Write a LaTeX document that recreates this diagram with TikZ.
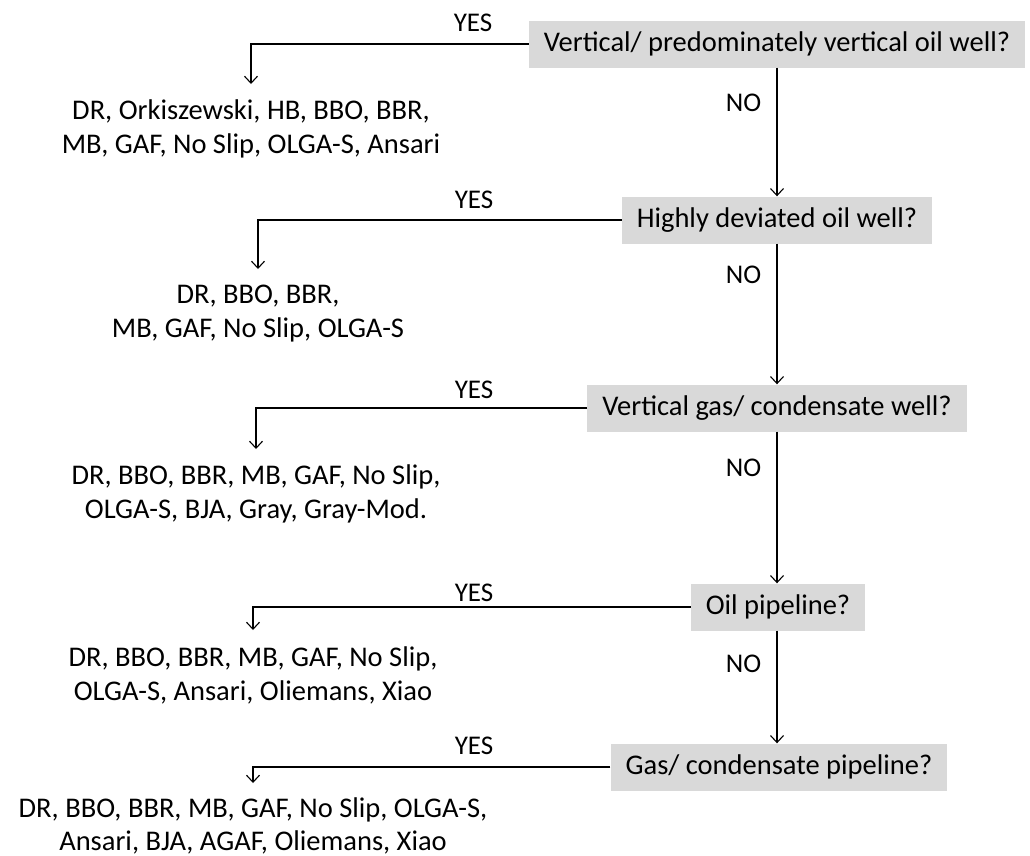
\documentclass[tikz,border=0pt]{standalone}
\usepackage{fontspec}
\setmainfont{Carlito}
\usetikzlibrary{arrows.meta}
\begin{document}
\begin{tikzpicture}[x=1pt,y=-1pt,
  question/.style={fill=boxgray,inner xsep=15pt,minimum height=47pt,font=\fontsize{28.5}{34}\selectfont},
  answer/.style={anchor=north,align=center,inner sep=0pt,font=\fontsize{28.5}{34}\selectfont},
  lbl/.style={inner sep=0pt,font=\fontsize{27}{30}\selectfont},
  arr/.style={draw=black,line width=1.1pt,-{Straight Barb[length=7pt,width=13pt,line width=1.1pt]}},
  toanswer/.style={arr,shorten >=16pt}]
\definecolor{boxgray}{HTML}{D9D9D9}
\useasboundingbox (0,0) rectangle (1030,855);

% decision boxes down the right-hand side
\node[question] (q1) at (777,44) {Vertical/ predominately vertical oil well?};
\node[question] (q2) at (777,220) {Highly deviated oil well?};
\node[question] (q3) at (777,408) {Vertical gas/ condensate well?};
\node[question] (q4) at (778,607) {Oil pipeline?};
\node[question] (q5) at (779,767) {Gas/ condensate pipeline?};

% model lists reached on a YES answer
\node[answer] (r1) at (251,100) {DR, Orkiszewski, HB, BBO, BBR,\\MB, GAF, No Slip, OLGA-S, Ansari};
\node[answer] (r2) at (258,285) {DR, BBO, BBR,\\MB, GAF, No Slip, OLGA-S};
\node[answer] (r3) at (256,465) {DR, BBO, BBR, MB, GAF, No Slip,\\OLGA-S, BJA, Gray, Gray-Mod.};
\node[answer] (r4) at (253,646) {DR, BBO, BBR, MB, GAF, No Slip,\\OLGA-S, Ansari, Oliemans, Xiao};
\node[answer,font=\fontsize{28.5}{33}\selectfont] (r5) at (253,797) {DR, BBO, BBR, MB, GAF, No Slip, OLGA-S,\\Ansari, BJA, AGAF, Oliemans, Xiao};

% YES branches
\draw[toanswer] (q1.west) -| (r1.north);
\draw[toanswer] (q2.west) -| (r2.north);
\draw[toanswer] (q3.west) -| (r3.north);
\draw[toanswer] (q4.west) -| (r4.north);
\draw[toanswer,shorten >=14pt] (q5.west) -| (r5.north);
\node[lbl] (y1) at (473,22.5) {YES};
\node[lbl] (y2) at (474,200) {YES};
\node[lbl] (y3) at (474,390) {YES};
\node[lbl] (y4) at (474,593) {YES};
\node[lbl] (y5) at (474,746) {YES};

% NO branches
\draw[arr] (q1.south -| 777,0) -- (q2.north -| 777,0);
\draw[arr] (q2.south -| 777,0) -- (q3.north -| 777,0);
\draw[arr] (q3.south -| 777,0) -- (q4.north -| 777,0);
\draw[arr] (q4.south -| 777,0) -- (q5.north -| 777,0);
\node[lbl] (n1) at (743.5,103) {NO};
\node[lbl] (n2) at (743.5,275) {NO};
\node[lbl] (n3) at (743.5,468) {NO};
\node[lbl] (n4) at (743.5,664) {NO};
\end{tikzpicture}
\end{document}
